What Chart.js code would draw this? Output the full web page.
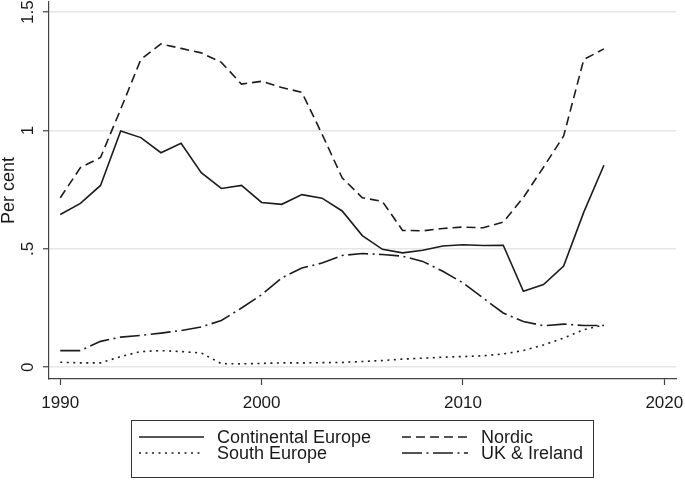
<!DOCTYPE html>
<html>
<head>
<meta charset="utf-8">
<script src="https://cdn.jsdelivr.net/npm/chart.js@4"></script>
<style>
    body { margin: 0; background: #fff; }
    #wrap { position: relative; width: 685px; height: 481px; }
    #legendBox { position: absolute; left: 131px; top: 420px; width: 463px; height: 58px; border: 1px solid #333; box-sizing: border-box; }
    .legend-item { position: absolute; height: 16px; line-height: 16px; font-family: "Liberation Sans", Arial, sans-serif; font-size: 18px; color: #1a1a1a; white-space: nowrap; }
    .legend-item svg { position: absolute; top: 6px; }
</style>
</head>
<body>
<div id="wrap">
    <canvas id="chart" width="685" height="481"></canvas>
    <div id="legendBox"></div>
</div>
<script>
const years = [1990, 1991, 1992, 1993, 1994, 1995, 1996, 1997, 1998, 1999,
    2000, 2001, 2002, 2003, 2004, 2005, 2006, 2007, 2008, 2009,
    2010, 2011, 2012, 2013, 2014, 2015, 2016, 2017];

const continental = [0.645, 0.692, 0.768, 0.998, 0.970, 0.906, 0.946, 0.822, 0.755, 0.768,
    0.696, 0.688, 0.729, 0.714, 0.660, 0.556, 0.498, 0.483, 0.494, 0.512,
    0.517, 0.514, 0.515, 0.321, 0.349, 0.427, 0.655, 0.853];
const nordic = [0.716, 0.843, 0.886, 1.090, 1.300, 1.366, 1.347, 1.328, 1.288, 1.196,
    1.208, 1.182, 1.161, 0.985, 0.800, 0.716, 0.700, 0.578, 0.576, 0.586,
    0.592, 0.589, 0.613, 0.717, 0.845, 0.977, 1.300, 1.345];
const southEurope = [0.021, 0.018, 0.018, 0.045, 0.066, 0.070, 0.066, 0.060, 0.015, 0.014,
    0.016, 0.018, 0.018, 0.019, 0.020, 0.024, 0.028, 0.034, 0.038, 0.042,
    0.045, 0.048, 0.056, 0.070, 0.094, 0.123, 0.158, 0.179];
const ukIreland = [0.070, 0.070, 0.109, 0.127, 0.134, 0.144, 0.155, 0.170, 0.197, 0.250,
    0.306, 0.377, 0.419, 0.440, 0.472, 0.480, 0.476, 0.469, 0.447, 0.405,
    0.356, 0.292, 0.229, 0.193, 0.175, 0.182, 0.176, 0.176];

const xTicks = [1990, 2000, 2010, 2020];
const yTicks = [0, 0.5, 1, 1.5];
const yTickLabels = ['0', '.5', '1', '1.5'];

const lineColor = '#1c1c1c';
const axisColor = '#444';
const fontFamily = '"Liberation Sans", Arial, sans-serif';

function makeSeries(label, values, dash) {
    return {
        label: label,
        data: years.map((y, i) => ({ x: y, y: values[i] })),
        borderColor: lineColor,
        borderWidth: 1.6,
        borderDash: dash,
        pointRadius: 0,
        fill: false,
        tension: 0
    };
}

const datasets = [
    makeSeries('Continental Europe', continental, []),
    makeSeries('Nordic', nordic, [9, 5]),
    makeSeries('South Europe', southEurope, [2, 4.5]),
    makeSeries('UK & Ireland', ukIreland, [20, 4.5, 2, 4.5])
];

const ctx = document.getElementById('chart').getContext('2d');
new Chart(ctx, {
    type: 'line',
    data: { datasets: datasets },
    options: {
        responsive: false,
        animation: false,
        layout: { padding: { top: 2, right: 9, left: 0, bottom: 0 } },
        plugins: {
            legend: { display: false },
            tooltip: { enabled: false }
        },
        scales: {
            x: {
                type: 'linear',
                min: 1989.44,
                max: 2020.58,
                afterBuildTicks: s => { s.ticks = xTicks.map(v => ({ value: v })); },
                afterFit: s => { s.height = 102; s.paddingLeft = 0; s.paddingRight = 0; },
                grid: { drawOnChartArea: false, tickLength: 6, tickColor: axisColor, tickWidth: 1.2 },
                border: { color: axisColor, width: 1.2 },
                ticks: {
                    font: { family: fontFamily, size: 17 },
                    color: '#1a1a1a',
                    padding: 8,
                    maxRotation: 0,
                    autoSkip: false,
                    callback: v => String(v)
                }
            },
            y: {
                type: 'linear',
                min: -0.05,
                max: 1.543,
                afterBuildTicks: s => { s.ticks = yTicks.map(v => ({ value: v })); },
                afterFit: s => { s.width = 49; s.paddingTop = 0; s.paddingBottom = 0; },
                grid: { color: '#e6e6e6', lineWidth: 1.5, tickLength: 6, tickColor: axisColor, tickWidth: 1.2 },
                border: { color: axisColor, width: 1.2 },
                ticks: {
                    font: { family: fontFamily, size: 17 },
                    color: '#1a1a1a',
                    minRotation: 90,
                    maxRotation: 90,
                    crossAlign: 'center',
                    padding: 3,
                    autoSkip: false,
                    callback: (v, i) => yTickLabels[i]
                },
                title: {
                    display: true,
                    text: 'Per cent',
                    color: '#1a1a1a',
                    font: { family: fontFamily, size: 18, lineHeight: 1 },
                    padding: 0
                }
            }
        }
    }
});

// legend in two columns, built from the datasets
const wrap = document.getElementById('wrap');
const colSymbol = [139, 402];
const colText = [217, 481];
const rowY = [437, 453];
datasets.forEach((ds, i) => {
    const col = i % 2, row = Math.floor(i / 2);
    const item = document.createElement('div');
    item.className = 'legend-item';
    item.style.left = colSymbol[col] + 'px';
    item.style.top = (rowY[row] - 8) + 'px';
    const w = colText[col] - colSymbol[col] - 13;
    item.innerHTML = `<svg width="${w}" height="4"><line x1="0" y1="2" x2="${w}" y2="2" stroke="${ds.borderColor}" stroke-width="1.6" stroke-dasharray="${ds.borderDash.join(' ')}"/></svg>` +
        `<span style="position:absolute;left:${colText[col] - colSymbol[col]}px">${ds.label.replace('&', '&amp;')}</span>`;
    wrap.appendChild(item);
});
</script>
</body>
</html>
